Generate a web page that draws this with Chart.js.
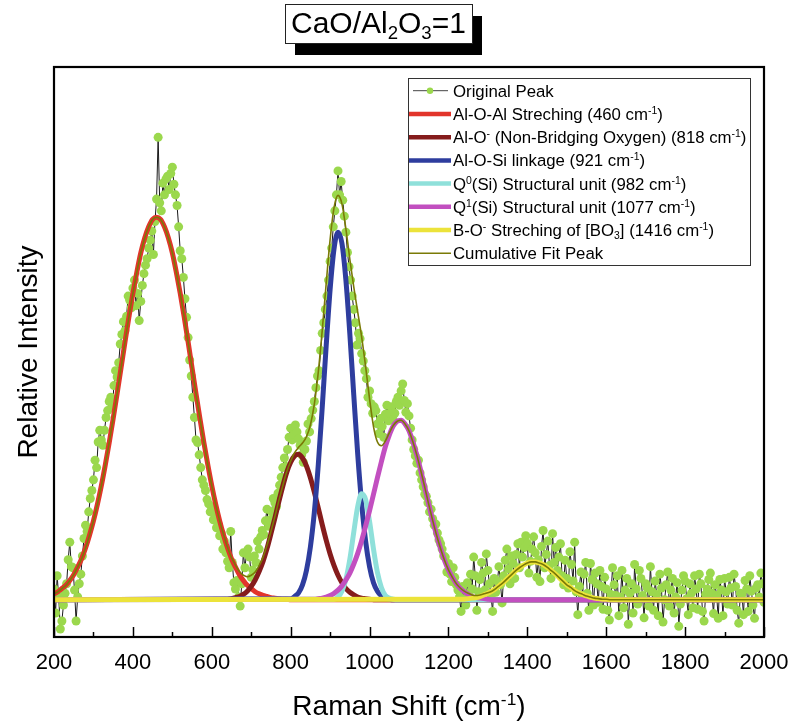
<!DOCTYPE html>
<html>
<head>
<meta charset="utf-8">
<script src="https://cdn.jsdelivr.net/npm/chart.js@4.4.1/dist/chart.umd.min.js"></script>
<style>
html,body{margin:0;padding:0;background:#fff;}
canvas{display:block;}
</style>
</head>
<body>
<canvas id="c" width="793" height="726"></canvas>
<script>
// ---------------- DATA ----------------
const xTickValues = [200, 400, 600, 800, 1000, 1200, 1400, 1600, 1800, 2000];
const xMinorValues = [300, 500, 700, 900, 1100, 1300, 1500, 1700, 1900];

// Original Peak: measured spectrum, sampled from 200 cm-1 every 4 cm-1 (relative units x1000)
const ramanStart = 200;
const ramanStep = 4;
const originalPeak = [
  20, -25, 45, 5, -55, -40, -10, 12, 30, 75,
  108, 62, 60, 18, -40, 5, 30, 48, 82, 115,
  140, 128, 165, 190, 205, 225, 262, 248, 296, 318,
  300, 290, 318, 342, 355, 372, 380, 362, 402, 430,
  418, 445, 480, 498, 522, 505, 532, 570, 562, 548,
  585, 600, 552, 575, 524, 560, 590, 612, 628, 640,
  660, 675, 692, 648, 710, 752, 868, 745, 730, 782,
  760, 790, 795, 770, 800, 812, 780, 760, 740, 700,
  655, 640, 605, 565, 530, 492, 450, 420, 380, 342,
  300, 295, 272, 248, 225, 215, 205, 188, 180, 165,
  172, 150, 160, 135, 142, 120, 125, 95, 110, 88,
  72, 60, 128, 70, 32, 20, 36, 5, -12, 30,
  88, 60, 86, 95, 80, 42, 56, 82, 70, 110,
  95, 118, 130, 122, 148, 170, 138, 150, 165, 190,
  182, 175, 200, 215, 230, 248, 266, 250, 282, 305,
  322, 300, 310, 328, 315, 302, 290, 272, 258, 282,
  298, 330, 315, 340, 356, 372, 398, 420, 430, 468,
  500, 520, 545, 570, 600, 635, 660, 700, 730, 760,
  805, 760, 785, 750, 720, 690, 652, 625, 600, 570,
  545, 520, 478, 500, 490, 462, 448, 430, 415, 380,
  392, 368, 350, 362, 355, 330, 312, 340, 325, 305,
  348, 365, 336, 350, 362, 338, 350, 372, 380, 365,
  392, 405, 374, 352, 368, 345, 322, 300, 282, 270,
  256, 262, 238, 225, 212, 198, 194, 182, 165, 170,
  152, 140, 142, 125, 112, 105, 95, 82, 80, 52,
  68, 48, 34, 60, 42, 28, 18, 5, -22, 25,
  2, -10, 32, 12, 48, 20, 80, 45, -20, 15,
  38, 70, 50, 18, 86, 55, 30, 6, -22, 40,
  14, 35, 62, 28, -6, 45, 74, 95, 58, 30,
  82, 68, 40, 85, 105, 60, 108, 80, 98, 120,
  106, 50, 72, 95, 118, 88, 42, 75, 34, 100,
  130, 60, 85, 110, 64, 40, 124, 70, 98, 55,
  80, 105, 45, 28, 74, 40, 22, 90, 66, 35,
  108, 15, -28, 25, 52, 8, 48, 70, 12, -20,
  68, 38, -10, 50, 30, -5, 55, 25, -18, 42,
  20, -20, -38, 10, 60, 28, 8, 45, -30, 5,
  55, -15, 18, 40, -46, 12, 30, -25, 66, 20,
  -8, 55, 40, 8, -34, 30, 22, -12, 62, 15,
  -20, 35, 10, -30, 48, 22, -42, 0, 28, 52,
  -12, 18, 40, -25, 5, 32, -50, -8, 18, 45,
  35, 2, -28, 30, 12, -15, 45, 20, -18, 48,
  30, -22, -40, 10, 20, 38, 50, 12, -26, 28,
  8, -35, 38, 18, -30, 40, 15, -8, 42, 22,
  -10, 48, 25, -20, -44, 12, 10, -28, 36, 20,
  -22, 45, 16, -10, -35, 22, 28, 5, 50, 30,
  -5
];

// Fitted components, sampled every 10 cm-1 from the given start (zero elsewhere)
const fitStep = 10;
const alOAlStart = 200;
const alOAl = [11, 15, 21, 27, 36, 47, 61, 77, 97, 121, 148, 179, 214, 253, 295, 340, 387, 435, 484, 531,
  575, 615, 651, 679, 700, 714, 718, 714, 700, 679, 651, 615, 575, 531, 484, 435, 387, 340, 295, 253,
  214, 179, 148, 121, 97, 77, 61, 47, 36, 27, 21, 15, 11, 8, 6, 4, 3, 2, 1, 1];
const nboStart = 630;
const nbo = [1, 1, 2, 4, 6, 10, 16, 25, 37, 53, 72, 96, 124, 153, 184, 213, 239, 258, 270, 273,
  266, 251, 229, 202, 172, 141, 112, 86, 64, 46, 32, 21, 14, 9, 5, 3, 2, 1];
const alOSiStart = 800;
const alOSi = [2, 6, 13, 28, 55, 99, 164, 253, 361, 476, 582, 659, 690, 669, 600, 499, 384, 273, 180, 110,
  62, 32, 16, 7, 3, 1];
const q0Start = 910;
const q0 = [1, 5, 16, 38, 76, 127, 175, 199, 188, 147, 95, 51, 23, 8, 3, 1];
const q1Start = 860;
const q1 = [1, 2, 3, 5, 8, 12, 18, 26, 37, 50, 67, 87, 111, 138, 167, 198, 229, 259, 287, 309,
  326, 335, 337, 330, 317, 296, 271, 242, 211, 179, 149, 121, 96, 74, 56, 42, 30, 21, 15, 10,
  6, 4, 3, 2, 1];
const bo3Start = 1230;
const bo3 = [1, 1, 2, 3, 4, 6, 9, 12, 16, 21, 27, 33, 40, 47, 54, 60, 65, 69, 71, 71,
  69, 66, 61, 55, 49, 42, 35, 28, 23, 17, 13, 10, 7, 5, 3, 2, 1, 1];
const cumulativeStart = 200;
const cumulative = [11, 15, 21, 27, 36, 47, 61, 77, 97, 121, 148, 179, 214, 253, 295, 340, 387, 435, 484, 531,
  575, 615, 651, 679, 700, 714, 718, 714, 700, 679, 651, 615, 575, 531, 484, 435, 387, 340, 295, 253,
  214, 179, 148, 122, 98, 79, 65, 53, 46, 43, 46, 52, 64, 80, 102, 128, 156, 186, 214, 240,
  260, 276, 286, 294, 306, 328, 367, 427, 505, 593, 676, 736, 759, 743, 696, 639, 587, 540, 493, 438,
  377, 325, 296, 289, 298, 313, 327, 335, 337, 330, 317, 296, 271, 242, 211, 179, 149, 121, 96, 74,
  56, 42, 30, 22, 16, 12, 9, 8, 9, 11, 13, 16, 21, 27, 33, 40, 47, 54, 60, 65,
  69, 71, 71, 69, 66, 61, 55, 49, 42, 35, 28, 23, 17, 13, 10, 7, 5, 3, 2, 1, 1];

const seriesLabels = [
  'Original Peak',
  'Al-O-Al Streching (460 cm^{-1})',
  'Al-O^{-} (Non-Bridging Oxygen) (818 cm^{-1})',
  'Al-O-Si linkage (921 cm^{-1})',
  'Q^{0}(Si) Structural unit (982 cm^{-1})',
  'Q^{1}(Si) Structural unit (1077 cm^{-1})',
  'B-O^{-} Streching of [BO_{3}] (1416 cm^{-1})',
  'Cumulative Fit Peak'
];
const chartTitle = 'CaO/Al_{2}O_{3}=1';
const xAxisTitle = 'Raman Shift (cm^{-1})';
const yAxisTitle = 'Relative Intensity';

// ---------------- HELPERS ----------------
const FONT = "'Liberation Sans', Arial, Helvetica, sans-serif";
const supMap = {'-': '\u207B', '0': '\u2070', '1': '\u00B9', '2': '\u00B2', '3': '\u00B3'};
const subMap = {'2': '\u2082', '3': '\u2083'};
function plain(m) {
  return m.replace(/([\^_])\{([^}]*)\}/g, (a, k, t) =>
    t.split('').map(c => (k === '^' ? supMap : subMap)[c] || c).join(''));
}
function rich(ctx, markup, x, y, size, align) {
  const segs = [];
  const re = /([\^_])\{([^}]*)\}/g;
  let last = 0, m;
  while ((m = re.exec(markup))) {
    if (m.index > last) segs.push({t: markup.slice(last, m.index), k: 'n'});
    segs.push({t: m[2], k: m[1] === '^' ? 'sup' : 'sub'});
    last = re.lastIndex;
  }
  if (last < markup.length) segs.push({t: markup.slice(last), k: 'n'});
  const small = size * 0.62;
  let total = 0;
  segs.forEach(s => {
    ctx.font = (s.k === 'n' ? size : small) + 'px ' + FONT;
    s.w = ctx.measureText(s.t).width;
    total += s.w;
  });
  let cx = align === 'center' ? x - total / 2 : x;
  ctx.textAlign = 'left';
  ctx.textBaseline = 'alphabetic';
  segs.forEach(s => {
    ctx.font = (s.k === 'n' ? size : small) + 'px ' + FONT;
    const dy = s.k === 'sup' ? -size * 0.36 : (s.k === 'sub' ? size * 0.2 : 0);
    ctx.fillText(s.t, cx, y + dy);
    cx += s.w;
  });
}
function curve(start, values) {
  const pts = [];
  if (start > 200) pts.push({x: 200, y: 0});
  values.forEach((v, i) => pts.push({x: start + i * fitStep, y: v}));
  const end = start + values.length * fitStep;
  if (end < 2000) { pts.push({x: end, y: 0}); pts.push({x: 2000, y: 0}); }
  return pts;
}
const originalPoints = originalPeak.map((v, i) => ({x: ramanStart + i * ramanStep, y: v}));

const colors = {
  original: '#1a1a1a', marker: '#9bd84d',
  red: '#e2352b', darkred: '#851c1c', blue: '#2e3d9e', cyan: '#8fe0da',
  magenta: '#c24fc0', yellow: '#ece33a', olive: '#7a7a06'
};

function compDs(i, pts, color, order) {
  return {
    label: plain(seriesLabels[i]), data: pts, borderColor: color, backgroundColor: color,
    borderWidth: 5, pointRadius: 0, fill: false, cubicInterpolationMode: 'monotone',
    order: order, clip: 0
  };
}

const datasets = [
  {
    label: plain(seriesLabels[0]), data: originalPoints, borderColor: colors.original, borderWidth: 1,
    pointRadius: 4.5, pointBackgroundColor: colors.marker, pointBorderWidth: 0, pointHoverRadius: 4.5,
    tension: 0, fill: false, order: 7, clip: 0
  },
  compDs(1, curve(alOAlStart, alOAl), colors.red, 6),
  compDs(2, curve(nboStart, nbo), colors.darkred, 5),
  compDs(3, curve(alOSiStart, alOSi), colors.blue, 4),
  compDs(4, curve(q0Start, q0), colors.cyan, 3),
  compDs(5, curve(q1Start, q1), colors.magenta, 2),
  compDs(6, curve(bo3Start, bo3), colors.yellow, 1),
  {
    label: plain(seriesLabels[7]), data: curve(cumulativeStart, cumulative), borderColor: colors.olive,
    borderWidth: 1.6, pointRadius: 0, fill: false, cubicInterpolationMode: 'monotone', order: 0, clip: 0
  }
];

const decor = {
  id: 'decor',
  afterDatasetsDraw(chart) {
    const ctx = chart.ctx, a = chart.chartArea, xs = chart.scales.x;
    ctx.save();
    ctx.strokeStyle = '#000';
    ctx.lineWidth = 1.5;
    xTickValues.concat(xMinorValues).forEach(v => {
      const px = Math.round(xs.getPixelForValue(v)) + 0.5;
      const len = xTickValues.includes(v) ? 10 : 5;
      ctx.beginPath(); ctx.moveTo(px, a.bottom); ctx.lineTo(px, a.bottom - len); ctx.stroke();
    });
    ctx.lineWidth = 2.2;
    ctx.strokeRect(a.left, a.top, a.right - a.left, a.bottom - a.top);
    ctx.restore();
  },
  afterDraw(chart) {
    const ctx = chart.ctx;
    ctx.save();
    // legend
    const lx = 408, ly = 78, lw = 342, lh = 187;
    ctx.fillStyle = '#fff';
    ctx.fillRect(lx, ly, lw, lh);
    ctx.strokeStyle = '#333';
    ctx.lineWidth = 1;
    ctx.strokeRect(lx + 0.5, ly + 0.5, lw, lh);
    chart.data.datasets.forEach((ds, i) => {
      const yc = 90.7 + 23.23 * i;
      ctx.lineCap = 'butt';
      if (i === 0) {
        ctx.strokeStyle = '#444'; ctx.lineWidth = 1;
        ctx.beginPath(); ctx.moveTo(413, yc); ctx.lineTo(448, yc); ctx.stroke();
        ctx.fillStyle = colors.marker;
        ctx.beginPath(); ctx.arc(430, yc, 3.2, 0, Math.PI * 2); ctx.fill();
      } else {
        ctx.strokeStyle = ds.borderColor;
        ctx.lineWidth = ds.borderWidth >= 5 ? 4.5 : 1.6;
        ctx.beginPath(); ctx.moveTo(409, yc); ctx.lineTo(451, yc); ctx.stroke();
      }
      ctx.fillStyle = '#000';
      rich(ctx, seriesLabels[i], 453, yc + 6, 16.8, 'left');
    });
    // title box with shadow
    const bx = 285, by = 4, bw = 187, bh = 39;
    ctx.fillStyle = '#000';
    ctx.fillRect(bx + 10, by + 12, bw, bh);
    ctx.fillStyle = '#fff';
    ctx.fillRect(bx, by, bw, bh);
    ctx.strokeStyle = '#222'; ctx.lineWidth = 1;
    ctx.strokeRect(bx + 0.5, by + 0.5, bw, bh);
    ctx.fillStyle = '#000';
    rich(ctx, chartTitle, 291, 33, 30, 'left');
    // x axis title
    const a = chart.chartArea;
    rich(ctx, xAxisTitle, (a.left + a.right) / 2, 715, 28, 'center');
    ctx.restore();
  }
};

Chart.defaults.color = '#000';
Chart.defaults.font.family = FONT;

new Chart(document.getElementById('c'), {
  type: 'line',
  data: {datasets: datasets},
  options: {
    responsive: false,
    animation: false,
    events: [],
    layout: {padding: {top: 67, right: 29, bottom: 0, left: 0}},
    plugins: {legend: {display: false}, title: {display: false}, tooltip: {enabled: false}},
    scales: {
      x: {
        type: 'linear', min: 200, max: 2000,
        afterBuildTicks: s => { s.ticks = xTickValues.map(v => ({value: v})); },
        afterFit: s => { s.height = 89; s.paddingLeft = 0; s.paddingRight = 0; },
        grid: {display: false, drawTicks: false},
        border: {display: false},
        ticks: {font: {size: 22}, color: '#000', padding: 13, maxRotation: 0, autoSkip: false,
                callback: v => String(v)}
      },
      y: {
        type: 'linear', min: -70, max: 1000,
        afterFit: s => { s.width = 54; s.paddingTop = 0; s.paddingBottom = 0; },
        grid: {display: false, drawTicks: false},
        border: {display: false},
        ticks: {display: false},
        title: {display: true, text: yAxisTitle, font: {size: 28}, color: '#000', padding: {top: 12, bottom: 0}}
      }
    }
  },
  plugins: [decor]
});
</script>
</body>
</html>
